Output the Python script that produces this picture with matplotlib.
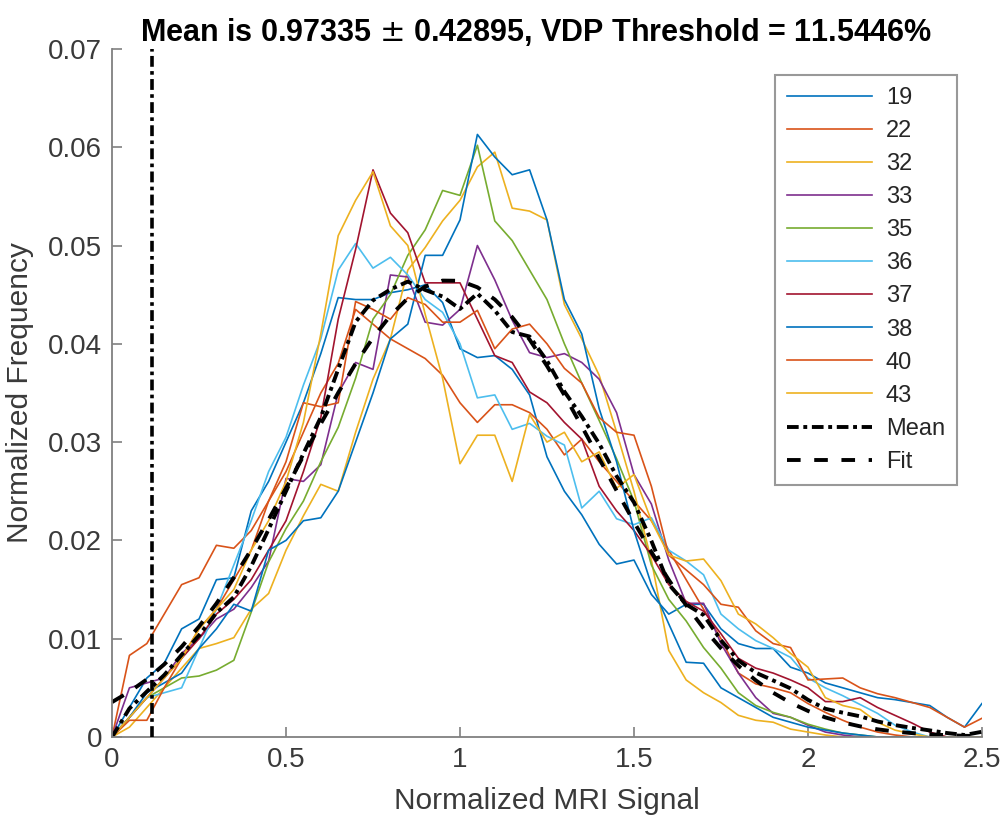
import numpy as np
import matplotlib
matplotlib.use("Agg")
import matplotlib.pyplot as plt

plt.rcParams['font.family'] = ['Liberation Sans', 'DejaVu Sans']

x = np.round(np.arange(0, 2.5001, 0.05), 2)

labels = ['19', '22', '32', '33', '35', '36', '37', '38', '40', '43']
colors = ['#0072BD', '#D95319', '#EDB120', '#7E2F8E', '#77AC30',
          '#4DBEEE', '#A2142F', '#0072BD', '#D95319', '#EDB120']

s19 = [0, 0.003, 0.006, 0.0075, 0.011, 0.012, 0.016, 0.0162, 0.023, 0.026,
       0.030, 0.034, 0.039, 0.0447, 0.0445, 0.0445, 0.0452, 0.0455, 0.046, 0.0442,
       0.0395, 0.0386, 0.0388, 0.0374, 0.0348, 0.0285, 0.025, 0.0226, 0.0196, 0.0176,
       0.018, 0.0145, 0.0125, 0.0135, 0.0135, 0.011, 0.0095, 0.009, 0.009, 0.0071,
       0.0065, 0.0055, 0.005, 0.0045, 0.004, 0.0038, 0.0035, 0.0032, 0.002, 0.001,
       0.0034]
s22 = [0, 0.0083, 0.0095, 0.0125, 0.0155, 0.0162, 0.0195, 0.0192, 0.021, 0.024,
       0.027, 0.031, 0.035, 0.038, 0.0435, 0.042, 0.0405, 0.0395, 0.0385, 0.0368,
       0.034, 0.032, 0.0338, 0.0338, 0.033, 0.0313, 0.0287, 0.0303, 0.028, 0.026,
       0.024, 0.022, 0.019, 0.016, 0.013, 0.010, 0.0065, 0.0054, 0.005, 0.0045,
       0.0034, 0.0025, 0.0017, 0.001, 0.0005, 0.0002, 0, 0, 0, 0,
       0]
s32 = [0, 0.001, 0.003, 0.005, 0.007, 0.009, 0.0095, 0.0101, 0.013, 0.0146,
       0.019, 0.0225, 0.0257, 0.025, 0.031, 0.0364, 0.0405, 0.0475, 0.0498, 0.0525,
       0.0546, 0.058, 0.0595, 0.0538, 0.0535, 0.0526, 0.044, 0.0405, 0.0368, 0.031,
       0.025, 0.018, 0.0088, 0.0058, 0.0045, 0.0035, 0.0022, 0.0017, 0.0015, 0.0008,
       0.0005, 0.0002, 0, 0, 0, 0, 0, 0, 0, 0,
       0]
s33 = [0, 0.005, 0.0055, 0.006, 0.0085, 0.010, 0.012, 0.013, 0.0152, 0.0179,
       0.0263, 0.026, 0.0277, 0.035, 0.0381, 0.0374, 0.047, 0.0468, 0.0422, 0.0419,
       0.0435, 0.050, 0.0465, 0.0424, 0.0391, 0.0386, 0.039, 0.0381, 0.0364, 0.033,
       0.0267, 0.0237, 0.018, 0.0136, 0.0136, 0.0095, 0.0065, 0.004, 0.0024, 0.002,
       0.0012, 0.0005, 0.0002, 0, 0, 0, 0, 0, 0, 0,
       0]
s35 = [0, 0.002, 0.004, 0.005, 0.006, 0.0062, 0.0068, 0.0078, 0.0127, 0.0178,
       0.0212, 0.024, 0.028, 0.0315, 0.0365, 0.0425, 0.045, 0.049, 0.0516, 0.0556,
       0.0551, 0.0602, 0.0525, 0.0505, 0.0475, 0.0445, 0.040, 0.036, 0.0322, 0.0283,
       0.024, 0.0175, 0.014, 0.0118, 0.0091, 0.007, 0.0045, 0.0032, 0.0025, 0.002,
       0.0013, 0.0008, 0.0004, 0.0002, 0, 0, 0, 0, 0, 0,
       0]
s36 = [0, 0.002, 0.004, 0.0045, 0.005, 0.009, 0.013, 0.0175, 0.022, 0.027,
       0.0305, 0.0358, 0.0405, 0.0475, 0.0502, 0.0477, 0.0488, 0.047, 0.0445, 0.0432,
       0.040, 0.0345, 0.0348, 0.0313, 0.0319, 0.0306, 0.0297, 0.0233, 0.025, 0.0222,
       0.0216, 0.0223, 0.019, 0.0179, 0.0165, 0.0125, 0.011, 0.0098, 0.009, 0.0081,
       0.006, 0.005, 0.0042, 0.0033, 0.0024, 0.0012, 0.0005, 0, 0, 0,
       0]
s37 = [0, 0.002, 0.004, 0.006, 0.008, 0.010, 0.0125, 0.014, 0.016, 0.019,
       0.022, 0.027, 0.0325, 0.0425, 0.0496, 0.0577, 0.0533, 0.0513, 0.0462, 0.0462,
       0.0462, 0.0425, 0.0388, 0.0381, 0.0351, 0.034, 0.032, 0.0303, 0.0255, 0.023,
       0.021, 0.0185, 0.0155, 0.0138, 0.0128, 0.0105, 0.008, 0.007, 0.0065, 0.0058,
       0.005, 0.0036, 0.0036, 0.004, 0.003, 0.0022, 0.0014, 0.0005, 0, 0,
       0]
s38 = [0, 0.002, 0.0045, 0.0055, 0.0065, 0.009, 0.011, 0.0135, 0.0128, 0.019,
       0.020, 0.022, 0.0223, 0.025, 0.030, 0.035, 0.0405, 0.042, 0.049, 0.049,
       0.0526, 0.0613, 0.059, 0.0572, 0.0577, 0.0526, 0.0445, 0.041, 0.0334, 0.028,
       0.021, 0.0155, 0.0115, 0.0076, 0.0075, 0.005, 0.004, 0.003, 0.002, 0.0015,
       0.001, 0.0007, 0.0004, 0.0002, 0, 0, 0, 0, 0, 0,
       0]
s40 = [0, 0.0017, 0.0017, 0.005, 0.008, 0.011, 0.013, 0.016, 0.019, 0.024,
       0.028, 0.034, 0.0336, 0.034, 0.0443, 0.0435, 0.0425, 0.0447, 0.044, 0.0422,
       0.0422, 0.0434, 0.0395, 0.0415, 0.042, 0.040, 0.0375, 0.036, 0.0325, 0.031,
       0.0307, 0.0255, 0.0185, 0.017, 0.0155, 0.0135, 0.0132, 0.0108, 0.0095, 0.0091,
       0.0058, 0.0059, 0.006, 0.005, 0.0044, 0.004, 0.0035, 0.003, 0.002, 0.001,
       0.0019]
s43 = [0, 0.002, 0.004, 0.006, 0.008, 0.011, 0.013, 0.015, 0.019, 0.022,
       0.026, 0.032, 0.041, 0.051, 0.0546, 0.0575, 0.052, 0.050, 0.043, 0.0365,
       0.0278, 0.0307, 0.0307, 0.026, 0.0328, 0.030, 0.031, 0.028, 0.029, 0.0253,
       0.0267, 0.022, 0.0185, 0.0179, 0.0181, 0.0159, 0.0125, 0.0115, 0.0101, 0.0085,
       0.0071, 0.004, 0.0032, 0.0028, 0.0015, 0.0007, 0.0003, 0, 0, 0,
       0]

series = [s19, s22, s32, s33, s35, s36, s37, s38, s40, s43]

fit_vals = [0.00355, 0.0046, 0.00586, 0.00739, 0.00918, 0.01124, 0.01358, 0.01621, 0.01906, 0.02212,
            0.02531, 0.0286, 0.03187, 0.03502, 0.03798, 0.04062, 0.04287, 0.04463, 0.04583, 0.04643,
            0.04641, 0.04575, 0.04451, 0.04271, 0.04043, 0.03775, 0.03478, 0.0316, 0.02834, 0.02506,
            0.02188, 0.01882, 0.01598, 0.01339, 0.01106, 0.00902, 0.00725, 0.00576, 0.0045, 0.00348,
            0.00265, 0.00199, 0.00148, 0.00108, 0.00078, 0.00055, 0.00039, 0.00027, 0.00018, 0.00012,
            0.00008]

threshold_x = 0.115
title_text = 'Mean is 0.97335 $\\pm$ 0.42895, VDP Threshold = 11.5446%'

fig = plt.figure(figsize=(10.03, 8.25), dpi=100)
ax = fig.add_axes([0.1117, 0.1067, 0.8673, 0.834])

ax.plot([threshold_x, threshold_x], [0, 0.07], color='black', lw=2.6,
        dashes=(3.0, 1.2, 1.0, 1.2), label='_nolegend_', zorder=5)

for lab, col, s in zip(labels, colors, series):
    ax.plot(x, s, color=col, lw=1.2, label=lab)

mean_vals = np.mean(np.array(series), axis=0)
ax.plot(x, mean_vals, color='black', lw=2.8, dashes=(3.0, 1.2, 1.0, 1.2), label='Mean')
ax.plot(x, fit_vals, color='black', lw=2.8, dashes=(3.5, 3.5), label='Fit')

ax.set_xlim(0, 2.5)
ax.set_ylim(0, 0.07)
ax.set_xticks([0, 0.5, 1, 1.5, 2, 2.5])
ax.set_xticklabels(['0', '0.5', '1', '1.5', '2', '2.5'])
ax.set_yticks([0, 0.01, 0.02, 0.03, 0.04, 0.05, 0.06, 0.07])
ax.set_yticklabels(['0', '0.01', '0.02', '0.03', '0.04', '0.05', '0.06', '0.07'])

for side in ['top', 'right']:
    ax.spines[side].set_visible(False)
for side in ['left', 'bottom']:
    ax.spines[side].set_color('#808080')
    ax.spines[side].set_linewidth(1.3)
ax.tick_params(direction='in', length=7, width=1.2, color='#808080',
               labelsize=20, labelcolor='#3a3a3a', pad=7)

ax.set_xlabel('Normalized MRI Signal', fontsize=21.5, color='#3a3a3a', labelpad=10)
ax.set_ylabel('Normalized Frequency', fontsize=21.5, color='#3a3a3a', labelpad=10)
ax.set_title(title_text, fontsize=22, fontweight='bold', color='black', pad=6, x=0.487)

leg = ax.legend(loc='upper right', bbox_to_anchor=(0.971, 0.962), borderaxespad=0,
                fontsize=17, frameon=True, fancybox=False, handlelength=3.6,
                labelspacing=0.47, borderpad=0.5, handletextpad=0.6)
leg.get_frame().set_edgecolor('#808080')
leg.get_frame().set_linewidth(1.5)
for t in leg.get_texts():
    t.set_color('#262626')

fig.savefig('out.png', dpi=100)
